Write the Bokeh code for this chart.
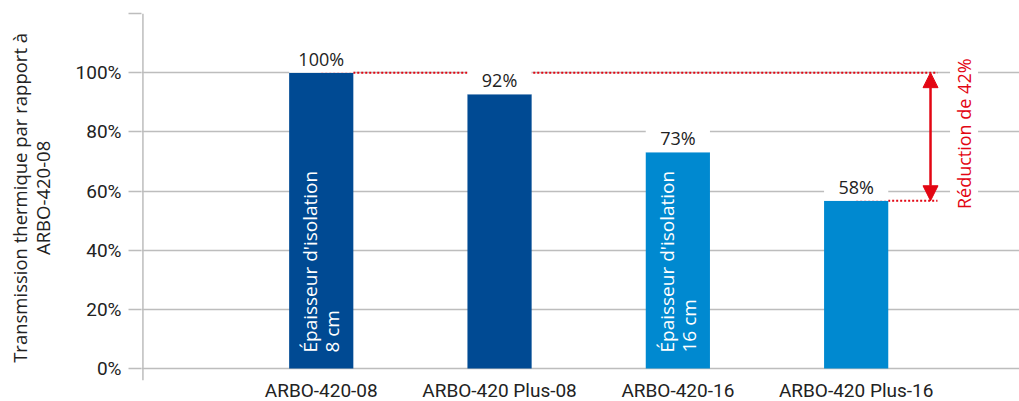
from math import pi
from bokeh.plotting import figure
from bokeh.models import Range1d, FixedTicker, PrintfTickFormatter, Arrow, NormalHead
from bokeh.core.properties import value
from bokeh.embed import file_html
from bokeh.resources import INLINE

# ---- data ----
categories = ["ARBO-420-08", "ARBO-420 Plus-08", "ARBO-420-16", "ARBO-420 Plus-16"]
transmission = [100, 92.7, 73.1, 56.7]          # bar heights (%)
value_labels = ["100%", "92%", "73%", "58%"]
bar_colors = ["#004A93", "#004A93", "#0089D0", "#0089D0"]
inner_labels = ["Épaisseur d'isolation\n8 cm", "", "Épaisseur d'isolation\n16 cm", ""]
y_ticks = [0, 20, 40, 60, 80, 100, 120]
y_title_lines = ["Transmission thermique par rapport à", "ARBO-420-08"]
reduction_label = "Réduction de 42%"
reduction_from = 100
reduction_to = 56.7

RED = "#E30613"
GRID = "#BDBDBD"
TXT = "#222222"
DIN = "Roboto"
SANS = "Open Sans"

xs = list(range(1, len(categories) + 1))
bar_w = 0.36
ann_x = 4.417       # arrow position (data units)
dot_end = 4.456
txt_x = 4.605
AXIS_BOTTOM = -4    # where the drawn y-axis line ends
AXIS_TOP = 120
cat_label_y = -7.6  # category labels, below the axis line

pad = "\u00a0" * 4  # keeps the rotated title centred like the reference
y_title = "\n".join(pad + s for s in y_title_lines)

p = figure(width=1019, height=401, x_range=Range1d(-0.008, 4.916), y_range=Range1d(-11.15, AXIS_TOP),
           output_backend="svg", toolbar_location=None,
           min_border_left=141, min_border_right=0, min_border_top=13, min_border_bottom=0)
p.outline_line_color = None
p.background_fill_color = "white"
p.border_fill_color = "white"

# grid
p.xgrid.visible = False
p.ygrid.grid_line_color = GRID
p.ygrid.grid_line_width = 1.5
p.ygrid.ticker = FixedTicker(ticks=y_ticks)

# y axis (line drawn as a glyph so it stops at the baseline area)
yax = p.yaxis[0]
yax.ticker = FixedTicker(ticks=y_ticks)
yax.formatter = PrintfTickFormatter(format="%d%%")
yax.major_label_overrides = {AXIS_TOP: ""}
yax.axis_line_color = None
yax.major_tick_line_color = GRID
yax.major_tick_line_width = 1.5
yax.major_tick_out = 13
yax.major_tick_in = 0
yax.minor_tick_line_color = None
yax.major_label_standoff = 7
yax.major_label_text_font = DIN
yax.major_label_text_font_size = "19px"
yax.major_label_text_color = TXT
yax.axis_label = y_title
yax.axis_label_text_font = SANS
yax.axis_label_text_font_size = "18.5px"
yax.axis_label_text_font_style = "normal"
yax.axis_label_text_color = TXT
yax.axis_label_text_line_height = 0.9
yax.axis_label_standoff = 18

p.segment(x0=[0], x1=[0], y0=[AXIS_BOTTOM], y1=[AXIS_TOP], line_color=GRID, line_width=1.5)

# x axis hidden; category labels drawn under the bars
p.xaxis.visible = False
p.text(x=xs, y=[cat_label_y] * len(xs), text=categories, text_align="center",
       text_baseline="middle", text_font=value(DIN), text_font_size="19px", text_color=TXT)

# red dotted reference lines
p.segment(x0=[xs[0]], x1=[dot_end], y0=[reduction_from], y1=[reduction_from],
          line_color=RED, line_width=2, line_dash="2 2")
p.segment(x0=[xs[-1]], x1=[dot_end], y0=[reduction_to], y1=[reduction_to],
          line_color=RED, line_width=2, line_dash="2 2")

# bars
p.vbar(x=xs, top=transmission, bottom=0, width=bar_w, fill_color=bar_colors, line_color=None)

# white label boxes
p.vbar(x=xs, bottom=transmission, top=[t + 9 for t in transmission], width=bar_w,
       fill_color="white", line_color=None)

# value labels (just above each bar)
p.text(x=xs, y=[t + 0.7 for t in transmission], text=value_labels, text_align="center",
       text_baseline="bottom", text_font=value(SANS), text_font_size="18px", text_color=TXT)

# inner rotated labels
p.text(x=xs, y=[5.4] * len(xs), text=inner_labels, angle=pi / 2, text_align="left",
       text_baseline="middle", text_font=value(SANS), text_font_size="19px",
       text_color="white", text_line_height=0.85)

# reduction arrow
p.add_layout(Arrow(x_start=ann_x, y_start=reduction_to, x_end=ann_x, y_end=reduction_from,
                   line_color=RED, line_width=2.5,
                   start=NormalHead(size=15, fill_color=RED, line_color=RED),
                   end=NormalHead(size=15, fill_color=RED, line_color=RED)))

# reduction text
p.text(x=[txt_x], y=[(reduction_from + reduction_to) / 2 + 1], text=[reduction_label], angle=pi / 2,
       text_align="center", text_baseline="middle", text_font=value(SANS), text_font_size="18px",
       text_color=RED, background_fill_color="white", padding=2)

open("out.html", "w").write(file_html(p, INLINE))
